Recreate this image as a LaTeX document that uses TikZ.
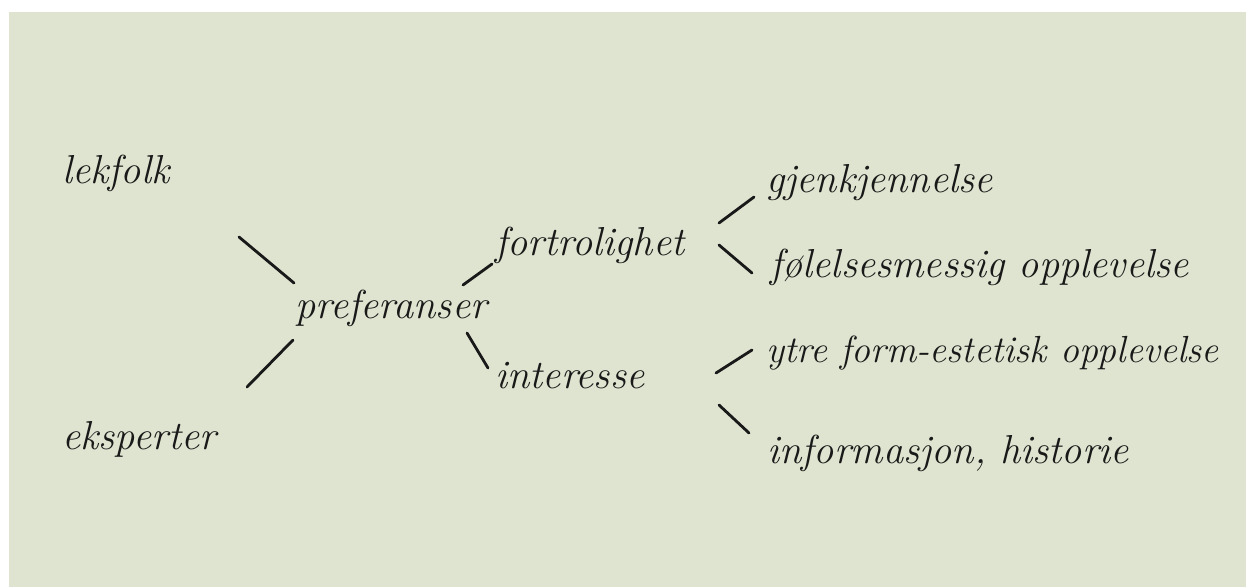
\documentclass[tikz,border=0pt]{standalone}
\usepackage{fontspec}
\usepackage{tikz}
\usetikzlibrary{calc}
\definecolor{paperGreen}{RGB}{222,228,207}
\definecolor{inkBlack}  {RGB}{25, 25, 25}

\begin{document}
\begin{tikzpicture}[
          word/.style={font=\fontsize{23}{27}\selectfont\itshape,text=inkBlack,
                       inner sep=0pt,anchor=base west},
          link/.style={draw=inkBlack,line width=1.6pt,line cap=round},
        ]
        \useasboundingbox (0,0) rectangle (24.92,-11.74);
        \fill[paperGreen] (0.18,-0.24) rectangle (24.92,-11.74);

        % LEFT SIDE
        \node[word](lek)  at (1.24,-3.66){lekfolk};
        \node[word](eks)  at (1.24,-8.98){eksperter};
        \node[word](pref) at (5.90,-6.36){preferanser};
        \draw[link]([shift={(3.54,-1.08)}]lek.base west)--([shift={(-0.02,0.70)}]pref.base west);
        \draw[link]([shift={(3.70,1.24)}]eks.base west)--([shift={(-0.04,-0.44)}]pref.base west);

        % MIDDLE
        \node[word](fort)  at (9.90,-5.10){fortrolighet};
        \node[word](inter) at (9.90,-7.76){interesse};
        \draw[link]([shift={(3.36,0.66)}]pref.base west)--([shift={(-0.06,-0.18)}]fort.base west);
        \draw[link]([shift={(3.44,-0.30)}]pref.base west)--([shift={(-0.14,0.40)}]inter.base west);

        % RIGHT SIDE
        \node[word](gjen) at (15.32,-3.84){gjenkjennelse};
        \node[word](fol)  at (15.40,-5.54){følelsesmessig opplevelse};
        \node[word,font=\fontsize{21.5}{26}\selectfont\itshape](ytre) at (15.32,-7.24){ytre form-estetisk opplevelse};
        \node[word](info) at (15.34,-9.26){informasjon, historie};
        \draw[link]([shift={(4.48,0.64)}]fort.base west)--([shift={(-0.24,-0.10)}]gjen.base west);
        \draw[link]([shift={(4.48,0.20)}]fort.base west)--([shift={(-0.36,0.08)}]fol.base west);
        \draw[link]([shift={(4.42,0.30)}]inter.base west)--([shift={(-0.28,0.24)}]ytre.base west);
        \draw[link]([shift={(4.48,-0.34)}]inter.base west)--([shift={(-0.36,0.60)}]info.base west);
      \end{tikzpicture}
\end{document}
